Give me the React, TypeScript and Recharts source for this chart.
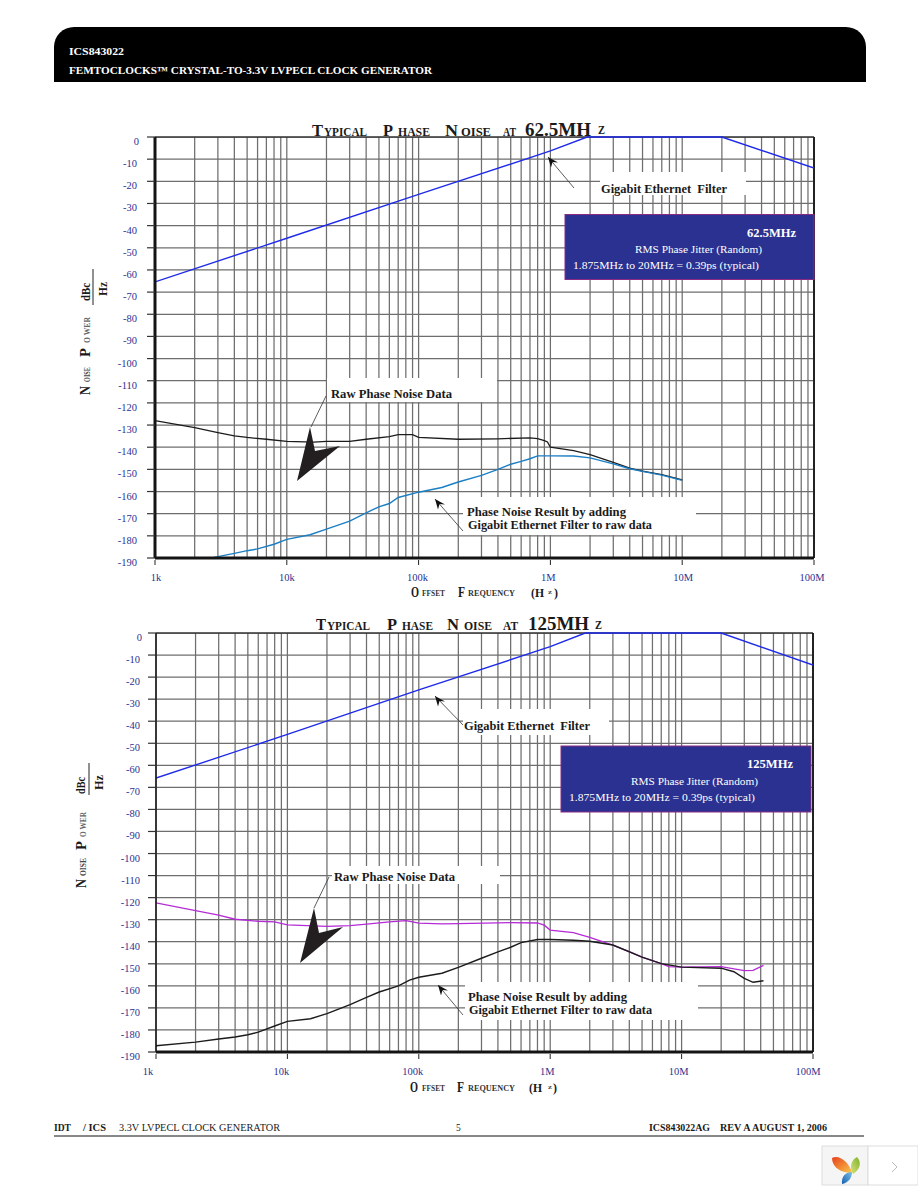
import React from 'react'
import { LineChart, Line, XAxis, YAxis, CartesianGrid, ReferenceLine } from 'recharts'

const serif = '"Liberation Serif", serif'
const navy = '#2e3192'

// grid
const freqTicks = [
    1e3, 2e3, 3e3, 4e3, 5e3, 6e3, 7e3, 8e3, 9e3,
    1e4, 2e4, 3e4, 4e4, 5e4, 6e4, 7e4, 8e4, 9e4,
    1e5, 2e5, 3e5, 4e5, 5e5, 6e5, 7e5, 8e5, 9e5,
    1e6, 2e6, 3e6, 4e6, 5e6, 6e6, 7e6, 8e6, 9e6,
    1e7, 2e7, 3e7, 4e7, 5e7, 6e7, 7e7, 8e7, 9e7,
    1e8,
]
const decadeNames: Record<number, string> = { 1e3: '1k', 1e4: '10k', 1e5: '100k', 1e6: '1M', 1e7: '10M', 1e8: '100M' }
const dbTicks = [0, -10, -20, -30, -40, -50, -60, -70, -80, -90, -100, -110, -120, -130, -140, -150, -160, -170, -180, -190]

// 62.5MHz chart
const filterFreqA = [1e3, 1e4, 1e5, 1e6, 1.9e6, 2e7, 1e8]
const filterDbA = [-65.4, -45.7, -25.9, -6.3, 0, 0, -14]

const rawFreqA = [1e3, 2e3, 3e3, 4e3, 5e3, 7e3, 1e4, 1.6e4, 2e4, 3e4, 4e4, 6e4, 7e4, 9e4, 1e5, 2e5, 4e5, 7e5, 8e5, 9e5, 9.5e5, 1e6, 1.5e6, 2e6, 3e6, 4e6, 5e6, 7e6, 1e7]
const rawDbA = [-128, -131.2, -133.4, -134.9, -135.6, -136.4, -137.4, -137.7, -137.4, -137.4, -136.4, -135.2, -134.3, -134.3, -135.6, -136.4, -136.2, -135.8, -136.1, -137, -137.6, -140, -141.5, -143.3, -146.8, -149.4, -150.8, -152.4, -154.7]

const resultFreqA = [2.8e3, 3e3, 4e3, 5e3, 6e3, 8e3, 1e4, 1.5e4, 2e4, 3e4, 4e4, 5e4, 6e4, 7e4, 1e5, 1.5e5, 2e5, 3e5, 4e5, 5e5, 6e5, 7e5, 8e5, 1e6, 1.5e6, 2e6, 3e6, 4e6, 5e6, 7e6, 1e7]
const resultDbA = [-189.7, -189.4, -187.9, -186.7, -185.9, -183.8, -181.6, -179.5, -177, -173.4, -169.6, -166.9, -165.4, -162.7, -160.3, -158.2, -155.7, -152.7, -150, -147.7, -146.4, -145.2, -143.9, -143.9, -144, -144.8, -147.5, -149.7, -150.9, -152.6, -155]

// 125MHz chart
const filterFreqB = [1e3, 1e4, 1e5, 1e6, 1.85e6, 2e7, 1e8]
const filterDbB = [-65.8, -46, -25.8, -6.2, 0, 0, -14.5]

const rawFreqB = [1e3, 2e3, 3e3, 4e3, 5e3, 6e3, 8e3, 1e4, 2e4, 3e4, 4e4, 6e4, 8e4, 1e5, 1.5e5, 2e5, 5e5, 8e5, 9e5, 1e6, 1.5e6, 2e6, 3e6, 4e6, 5e6, 7e6, 8e6, 1e7, 2e7, 3e7, 3.5e7, 4.2e7]
const rawDbB = [-122.4, -125.9, -127.9, -129.8, -130.3, -130.7, -131, -132.4, -133, -132.7, -132, -131, -130.4, -131.6, -131.9, -131.8, -131.3, -131.5, -132.5, -134.7, -135.9, -138, -141.5, -144.5, -147, -149.9, -151.3, -151.5, -151.3, -153.1, -153, -150.7]

const resultFreqB = [1e3, 2e3, 3e3, 4e3, 5e3, 6e3, 8e3, 1e4, 1.5e4, 2e4, 3e4, 4e4, 5e4, 7e4, 8.5e4, 1e5, 1.5e5, 2e5, 3e5, 4e5, 5e5, 6e5, 8e5, 1e6, 1.5e6, 2e6, 3e6, 5e6, 7e6, 1e7, 2e7, 2.5e7, 3e7, 3.5e7, 4.2e7]
const resultDbB = [-187.2, -185.5, -184.1, -183.2, -182.2, -181, -178.2, -176.1, -174.9, -172.6, -168.5, -165.2, -162.8, -160, -157.4, -156.1, -154.3, -151.6, -147.5, -144.6, -142.5, -140.4, -139, -139, -139.3, -139.8, -141.5, -147, -149.9, -151.5, -152, -153.6, -156.6, -158.4, -157.7]

const zip = (f: number[], d: number[]) => f.map((v, i) => ({ f: v, db: d[i] }))

const XTick = ({ x, payload, plotBottom, dx, labelY }: any) => {
    const name = decadeNames[payload.value]
    if (!name) return null
    const i = Object.keys(decadeNames).map(Number).sort((a, b) => a - b).indexOf(payload.value)
    return (
        <g>
            <line x1={x} x2={x} y1={plotBottom + 2} y2={plotBottom + 7} stroke="#222" />
            <text x={x + dx[i]} y={labelY} textAnchor="middle" fontFamily={serif} fontSize={10.5} fill={navy}>{name}</text>
        </g>
    )
}

const YTick = ({ y, payload, right, tickLeft, axisX }: any) => (
    <g>
        <line x1={tickLeft} x2={axisX} y1={y} y2={y} stroke="#333" strokeWidth={1.2} />
        <text x={payload.value === 0 ? right + 2 : right} y={y + 8} textAnchor="end" fontFamily={serif} fontSize={10.5} fill={navy}>{payload.value}</text>
    </g>
)

function PhaseChart(props: any) {
    const { top, marginTop, axisHeight, axisWidth, rightGap, filter, raw, result, rawColor, resultColor, dx, right, tickLeft, leftStroke } = props
    const height = 480
    const plotBottom = height - axisHeight
    return (
        <div style={{ position: 'absolute', left: 0, top }}>
            <LineChart width={918} height={height} margin={{ top: marginTop, right: rightGap, bottom: 0, left: 0 }}>
                <CartesianGrid stroke="#6e6e6e" strokeWidth={1.25} />
                <XAxis
                    type="number"
                    dataKey="f"
                    scale="log"
                    domain={[1e3, 1e8]}
                    ticks={freqTicks}
                    interval={0}
                    height={axisHeight}
                    allowDataOverflow
                    tickLine={false}
                    axisLine={{ stroke: '#141414', strokeWidth: 3 }}
                    tick={<XTick plotBottom={plotBottom} dx={dx} labelY={plotBottom + 23} />}
                />
                <YAxis
                    type="number"
                    domain={[-190, 0]}
                    ticks={dbTicks}
                    interval={0}
                    width={axisWidth}
                    tickLine={false}
                    axisLine={{ stroke: '#141414', strokeWidth: leftStroke }}
                    tick={<YTick right={right} tickLeft={tickLeft} axisX={axisWidth} />}
                />
                <ReferenceLine y={0} stroke="#111" strokeWidth={1} />
                <ReferenceLine x={1e8} stroke="#222" strokeWidth={2} />
                <Line data={filter} dataKey="db" type="linear" stroke="#1f2bea" strokeWidth={1.4} dot={false} isAnimationActive={false} />
                <Line data={raw} dataKey="db" type="linear" stroke={rawColor} strokeWidth={1.3} dot={false} isAnimationActive={false} />
                <Line data={result} dataKey="db" type="linear" stroke={resultColor} strokeWidth={1.4} dot={false} isAnimationActive={false} />
            </LineChart>
        </div>
    )
}

// text squeezed to the measured span
const T = ({ x, y, s, size = 12, len, bold = true, fill = '#1a1a1a', rot = false, anchor }: any) => (
    <text
        x={x}
        y={y}
        fontFamily={serif}
        fontSize={size}
        fontWeight={bold ? 700 : 400}
        fill={fill}
        textLength={len}
        lengthAdjust={len ? 'spacingAndGlyphs' : undefined}
        textAnchor={anchor}
        transform={rot ? `rotate(-90 ${x} ${y})` : undefined}
    >
        {s}
    </text>
)

const Head = ({ x, y }: any) => (
    <polygon points={`${x},${y} ${x + 3},${y + 10.5} ${x + 4.5},${y + 5} ${x + 10},${y + 5.5}`} fill="#111" />
)

const White = ({ x, y, w, h }: any) => <rect x={x} y={y} width={w} height={h} fill="#fff" />

const Arrow = ({ x1, y1, x2, y2 }: any) => (
    <>
        <line x1={x1} y1={y1} x2={x2} y2={y2} stroke="#333" strokeWidth={0.8} />
        <Head x={x2} y={y2} />
    </>
)

function YLabel({ x, dx, n, oise, p, ower, d, lineX, lineY1, lineY2, hx, hz }: any) {
    return (
        <>
            <T x={x} y={n} s="N" size={15} len={9} rot />
            <T x={x} y={oise[0]} s="OISE" size={8.5} len={oise[0] - oise[1]} rot fill="#444" />
            <T x={x} y={p} s="P" size={15} len={9} rot />
            <T x={x} y={ower[0]} s="O WER" size={8.5} len={ower[0] - ower[1]} rot fill="#666" />
            <T x={x + dx} y={d[0]} s="dBc" size={13} len={d[0] - d[1]} rot />
            <line x1={lineX} x2={lineX} y1={lineY1} y2={lineY2} stroke="#222" />
            <T x={hx} y={hz[0]} s="Hz" size={13} len={hz[0] - hz[1]} rot />
        </>
    )
}

function XLabel({ y, o, f, h, z, c }: any) {
    return (
        <>
            <T x={o} y={y} s="O" size={14} len={8} />
            <T x={422} y={y - 1} s="FFSET" size={8.5} len={23} fill="#333" />
            <T x={f} y={y} s="F" size={14} len={7} />
            <T x={468} y={y - 1} s="REQUENCY" size={8.5} len={47} fill="#333" />
            <T x={h} y={y} s="(H" size={13} len={13} />
            <T x={z} y={y - 3} s="z" size={7} len={4} fill="#555" />
            <T x={c} y={y} s=")" size={13} len={4} />
        </>
    )
}

export default function App() {
    return (
        <div style={{ position: 'absolute', left: 0, top: 0, width: 918, height: 1188, background: '#fff', overflow: 'hidden' }}>
            <PhaseChart
                top={120}
                marginTop={17}
                axisHeight={42}
                axisWidth={155}
                rightGap={104}
                filter={zip(filterFreqA, filterDbA)}
                raw={zip(rawFreqA, rawDbA)}
                result={zip(resultFreqA, resultDbA)}
                rawColor="#1c1c1c"
                resultColor="#1a7fc4"
                dx={[1, 0, -1, -2, 1, -2]}
                right={137}
                tickLeft={147}
                leftStroke={3}
            />
            <PhaseChart
                top={615}
                marginTop={18}
                axisHeight={43}
                axisWidth={156}
                rightGap={105}
                filter={zip(filterFreqB, filterDbB)}
                raw={zip(rawFreqB, rawDbB)}
                result={zip(resultFreqB, resultDbB)}
                rawColor="#b52bd6"
                resultColor="#1c1c1c"
                dx={[-8, -6, -6, -3, -3, -5]}
                right={140}
                tickLeft={148}
                leftStroke={1.5}
            />

            <svg width={918} height={1188} style={{ position: 'absolute', left: 0, top: 0, pointerEvents: 'none' }}>
                {/* page header */}
                <path d="M54 82 V47 A20 20 0 0 1 74 27 H846 A20 20 0 0 1 866 47 V82 Z" fill="#000" />
                <T x={69} y={55} s="ICS843022" size={10.5} len={55} fill="#fff" />
                <T x={69} y={74} s="FEMTOCLOCKS™ CRYSTAL-TO-3.3V LVPECL CLOCK GENERATOR" size={10.5} len={363} fill="#fff" />

                {/* first chart title */}
                <T x={312} y={136} s="T" size={17} len={11} />
                <T x={324} y={136} s="YPICAL" size={12.5} len={43} />
                <T x={383} y={136} s="P" size={17} len={10} />
                <T x={398} y={136} s="HASE" size={12.5} len={32} />
                <T x={445} y={136} s="N" size={17} len={13} />
                <T x={461} y={136} s="OISE" size={12.5} len={30} />
                <T x={503} y={136} s="AT" size={12.5} len={13} />
                <T x={525} y={136} s="62.5MH" size={19} len={66} />
                <T x={598} y={134} s="Z" size={12.5} len={7} />

                {/* second chart title */}
                <T x={316} y={630} s="T" size={17} len={10} />
                <T x={327} y={630} s="YPICAL" size={12.5} len={43} />
                <T x={387} y={630} s="P" size={17} len={10} />
                <T x={402} y={630} s="HASE" size={12.5} len={31} />
                <T x={447} y={630} s="N" size={17} len={12} />
                <T x={464} y={630} s="OISE" size={12.5} len={28} />
                <T x={503} y={630} s="AT" size={12.5} len={15} />
                <T x={528} y={630} s="125MH" size={19} len={61} />
                <T x={595} y={629} s="Z" size={12.5} len={7} />

                <YLabel x={90} dx={0} n={395} oise={[382, 367]} p={357} ower={[343, 317]} d={[301, 283]} lineX={93} lineY1={269} lineY2={305} hx={107} hz={[296, 282]} />
                <YLabel x={86} dx={-1} n={888} oise={[876, 858]} p={850} ower={[837, 812]} d={[794, 777]} lineX={89} lineY1={763} lineY2={795} hx={103} hz={[790, 775]} />
                <XLabel y={597} o={411} f={458} h={531} z={548} c={554} />
                <XLabel y={1092} o={410} f={457} h={529} z={548} c={553} />

                {/* first chart notes */}
                <White x={600} y={172} w={146} h={23} />
                <Arrow x1={574} y1={188} x2={548} y2={157} />
                <T x={601} y={193} s={'Gigabit Ethernet\u00a0\u00a0Filter'} size={12.5} len={126} />
                <rect x={565} y={214.5} width={249} height={65} fill="#2b3190" stroke="#8a2a85" />
                <T x={747} y={237} s="62.5MHz" size={12.5} len={49} fill="#fff" />
                <T x={635} y={253} s="RMS Phase Jitter (Random)" size={10.5} len={127} bold={false} fill="#fff" />
                <T x={573} y={269} s="1.875MHz to 20MHz = 0.39ps (typical)" size={10.5} len={186} bold={false} fill="#fff" />
                <White x={327} y={378} w={170} h={24} />
                <T x={331} y={398} s="Raw Phase Noise Data" size={12.5} len={121} />
                <line x1={326} y1={396} x2={311} y2={427} stroke="#333" strokeWidth={0.8} />
                <polygon points="310,427 315,451 340,446 297,481" fill="#231f20" />
                <White x={463} y={497} w={233} h={38} />
                <Arrow x1={463} y1={531} x2={435} y2={499} />
                <T x={467} y={516} s="Phase Noise Result by adding" size={12.5} len={159} />
                <T x={468} y={529} s="Gigabit Ethernet Filter to raw data" size={12.5} len={184} />

                {/* second chart notes */}
                <White x={463} y={709} w={146} h={26} />
                <Arrow x1={463} y1={725} x2={435} y2={696} />
                <T x={464} y={730} s={'Gigabit Ethernet\u00a0\u00a0Filter'} size={12.5} len={126} />
                <rect x={561} y={746} width={250} height={66} fill="#2b3190" stroke="#8a2a85" />
                <T x={747} y={768} s="125MHz" size={12.5} len={46} fill="#fff" />
                <T x={631} y={785} s="RMS Phase Jitter (Random)" size={10.5} len={127} bold={false} fill="#fff" />
                <T x={569} y={801} s="1.875MHz to 20MHz = 0.39ps (typical)" size={10.5} len={186} bold={false} fill="#fff" />
                <White x={332} y={866} w={168} h={18} />
                <T x={334} y={881} s="Raw Phase Noise Data" size={12.5} len={121} />
                <line x1={329} y1={877} x2={314} y2={908} stroke="#333" strokeWidth={0.8} />
                <polygon points="314,908 319,933 343,927 300,963" fill="#231f20" />
                <White x={465} y={982} w={233} h={38} />
                <Arrow x1={463} y1={1015} x2={438} y2={985} />
                <T x={468} y={1001} s="Phase Noise Result by adding" size={12.5} len={159} />
                <T x={469} y={1014} s="Gigabit Ethernet Filter to raw data" size={12.5} len={183} />

                {/* page footer */}
                <T x={54} y={1131} s="IDT" size={9.5} len={17} />
                <T x={83} y={1131} s="/ ICS" size={9.5} len={23} />
                <T x={119} y={1131} s="3.3V LVPECL CLOCK GENERATOR" size={9.5} len={161} bold={false} />
                <T x={456} y={1131} s="5" size={9.5} bold={false} />
                <T x={649} y={1131} s="ICS843022AG" size={9.5} len={61} />
                <T x={720} y={1131} s="REV A AUGUST 1, 2006" size={9.5} len={107} />
                <line x1={54} x2={864} y1={1136} y2={1136} stroke="#111" />

                {/* corner badge */}
                <defs>
                    <linearGradient id="petalA" x1="0" y1="0" x2="1" y2="1">
                        <stop offset="0" stopColor="#e8401c" />
                        <stop offset="1" stopColor="#f8c94a" />
                    </linearGradient>
                    <linearGradient id="petalB" x1="1" y1="0" x2="0" y2="1">
                        <stop offset="0" stopColor="#7fb22a" />
                        <stop offset="1" stopColor="#d8e27c" />
                    </linearGradient>
                    <linearGradient id="petalC" x1="0" y1="1" x2="1" y2="0">
                        <stop offset="0" stopColor="#1560ad" />
                        <stop offset="1" stopColor="#7cc0e8" />
                    </linearGradient>
                </defs>
                <rect x={822} y={1146} width={46} height={39} fill="#f5f5f5" stroke="#ddd" />
                <rect x={868} y={1146} width={50} height={39} fill="#fff" stroke="#ddd" />
                <path d="M832 1158 C840 1154 850 1164 852 1173 C842 1173 832 1168 832 1158 Z" fill="url(#petalA)" />
                <path d="M857 1157 C862 1162 860 1170 853 1174 C849 1168 851 1160 857 1157 Z" fill="url(#petalB)" />
                <path d="M842 1184 C841 1176 846 1172 852 1172 C852 1178 848 1183 842 1184 Z" fill="url(#petalC)" />
                <path d="M892 1162 L897 1167 L892 1172" fill="none" stroke="#bbb" />
            </svg>
        </div>
    )
}
